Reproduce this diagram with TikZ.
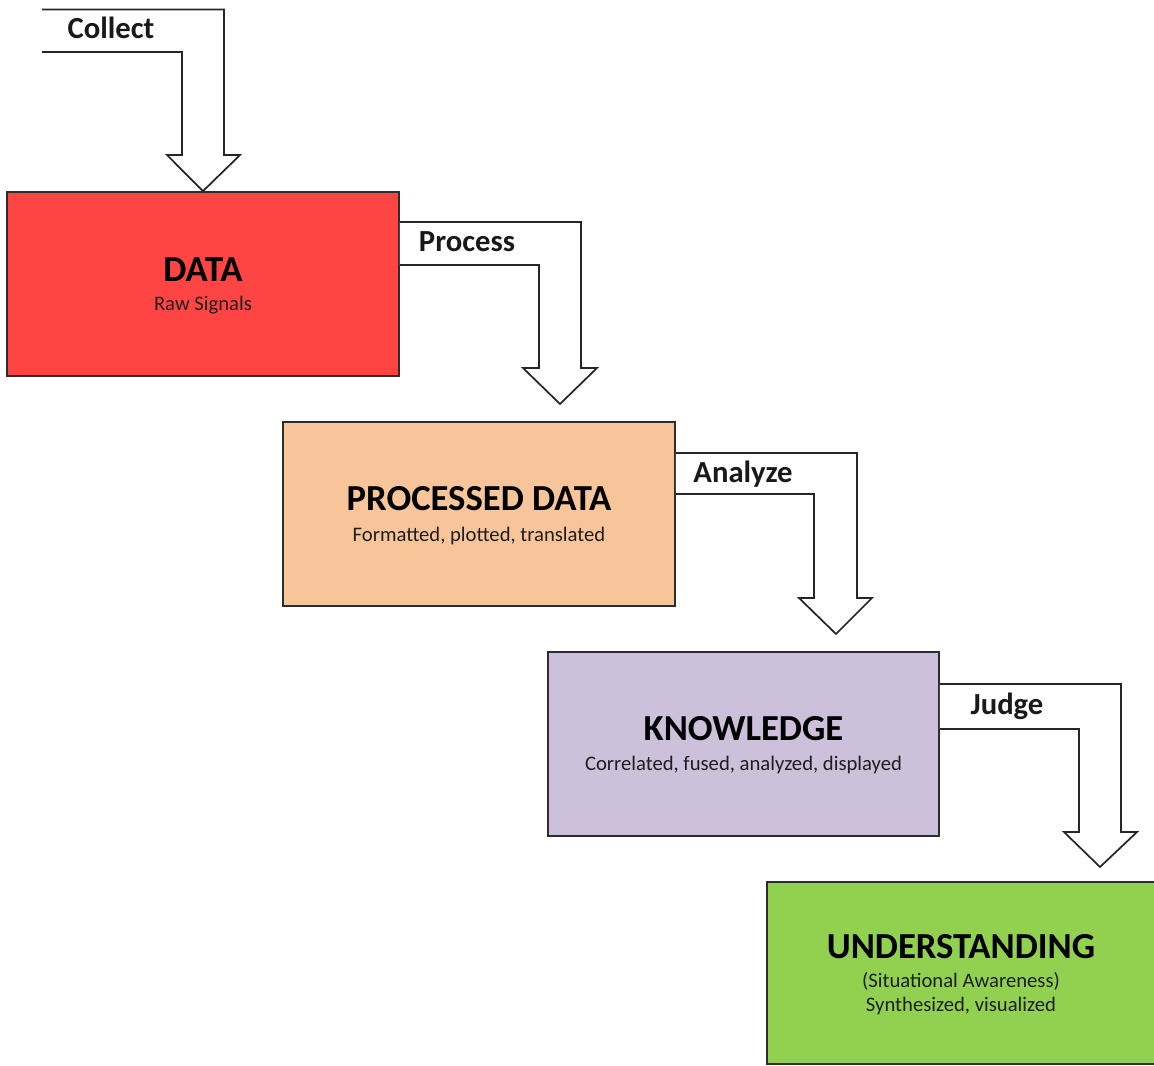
\documentclass[tikz,border=0pt]{standalone}
\usepackage{fontspec}
\setmainfont{Carlito}
\usetikzlibrary{fit}
\definecolor{datared}{RGB}{255,68,68}
\definecolor{procpeach}{RGB}{248,196,154}
\definecolor{knowlav}{RGB}{204,192,218}
\definecolor{undgreen}{RGB}{146,208,80}
\definecolor{edgegray}{RGB}{45,45,45}
\definecolor{subtext}{RGB}{30,30,30}
\tikzset{
  stagebox/.style={draw=edgegray, line width=1.3pt, inner sep=0pt, fit=#1},
  titletext/.style={font=\fontsize{27.5}{32}\selectfont\bfseries, anchor=base, text=black, inner sep=0pt},
  subtitletext/.style={font=\fontsize{15.5}{18}\selectfont, anchor=base, text=subtext, inner sep=0pt},
  steplabel/.style={font=\fontsize{23}{27}\selectfont\bfseries, anchor=base, text=black!90, inner sep=0pt},
  blockarrow/.style={draw=black!85, line width=1.3pt, fill=white, line join=miter},
}
\begin{document}
\begin{tikzpicture}[x=0.75pt, y=-0.75pt]
\useasboundingbox (0,0) rectangle (1154,1066);
% box corners
\coordinate (d1) at (7,192);   \coordinate (d2) at (399,376);
\coordinate (p1) at (283,422); \coordinate (p2) at (675,606);
\coordinate (k1) at (548,652); \coordinate (k2) at (939,836);
\coordinate (u1) at (767,882); \coordinate (u2) at (1170,1064);
\node[stagebox={(d1)(d2)}, fill=datared] (data) {};
\node[stagebox={(p1)(p2)}, fill=procpeach] (proc) {};
\node[stagebox={(k1)(k2)}, fill=knowlav] (know) {};
\node[stagebox={(u1)(u2)}, fill=undgreen] (und) {};
% free end of Collect arrow
\coordinate (cstart) at (42,9.5);
% block arrows
\fill[white] (cstart) -- (224,9.5) -- (224,155) -- (240,155) -- (data.north -| 203,0) -- (167,155) -- (182,155) -- (182,52) -- (42,52) -- cycle;
\draw[blockarrow, fill=none] (cstart) -- (224,9.5) -- (224,155) -- (240,155) -- (data.north -| 203,0) -- (167,155) -- (182,155) -- (182,52) -- (42,52);
\fill[white] (data.east |- 0,222) -- (581,222) -- (581,368) -- (597,368) -- (560,404) -- (523,368) -- (539,368) -- (539,265) -- (data.east |- 0,265) -- cycle;
\draw[blockarrow, fill=none] (data.east |- 0,222) -- (581,222) -- (581,368) -- (597,368) -- (560,404) -- (523,368) -- (539,368) -- (539,265) -- (data.east |- 0,265);
\fill[white] (proc.east |- 0,453) -- (857,453) -- (857,598) -- (872,598) -- (836,634) -- (799,598) -- (814,598) -- (814,494) -- (proc.east |- 0,494) -- cycle;
\draw[blockarrow, fill=none] (proc.east |- 0,453) -- (857,453) -- (857,598) -- (872,598) -- (836,634) -- (799,598) -- (814,598) -- (814,494) -- (proc.east |- 0,494);
\fill[white] (know.east |- 0,684) -- (1121,684) -- (1121,832) -- (1137,832) -- (1100,867) -- (1064,832) -- (1079,832) -- (1079,729) -- (know.east |- 0,729) -- cycle;
\draw[blockarrow, fill=none] (know.east |- 0,684) -- (1121,684) -- (1121,832) -- (1137,832) -- (1100,867) -- (1064,832) -- (1079,832) -- (1079,729) -- (know.east |- 0,729);
% arrow labels
\node[steplabel] (lcollect) at (111,39) {Collect};
\node[steplabel] (lprocess) at (467,252) {Process};
\node[steplabel] (lanalyze) at (743,482) {Analyze};
\node[steplabel] (ljudge) at (1007,714) {Judge};
% box texts
\node[titletext] (tdata) at (203,282) {DATA};
\node[subtitletext] (sdata) at (203,311) {Raw Signals};
\node[titletext] (tproc) at (479,510) {PROCESSED DATA};
\node[subtitletext] (sproc) at (479,541) {Formatted, plotted, translated};
\node[titletext] (tknow) at (743.5,740) {KNOWLEDGE};
\node[subtitletext] (sknow) at (743.5,770) {Correlated, fused, analyzed, displayed};
\node[titletext] (tund) at (961,958) {UNDERSTANDING};
\node[subtitletext] (sund1) at (961,987) {(Situational Awareness)};
\node[subtitletext] (sund2) at (961,1011) {Synthesized, visualized};
\end{tikzpicture}
\end{document}
